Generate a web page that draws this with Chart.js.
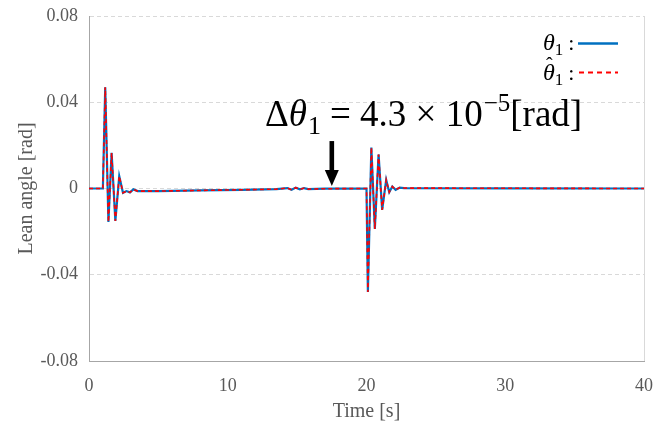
<!DOCTYPE html>
<html>
<head>
<meta charset="utf-8">
<script src="https://cdn.jsdelivr.net/npm/chart.js@4"></script>
<style>
html,body{margin:0;padding:0;background:#fff;}
#wrap{width:667px;height:428px;}
</style>
</head>
<body>
<div id="wrap"><canvas id="chart" width="667" height="428"></canvas></div>
<script>
// time axis [s] and lean angles [rad]
const timeS = [0, 1.0, 1.17, 1.40, 1.63, 1.90, 2.18, 2.45, 2.7, 2.95, 3.2, 3.5, 5, 8, 11, 13.5,
  14.3, 14.6, 14.9, 15.2, 15.5, 15.8, 17, 20.0, 20.1, 20.35, 20.6, 20.87, 21.13, 21.42,
  21.64, 21.86, 22.1, 22.4, 22.7, 30, 40];
const theta1 = [0, 0, 0.047, -0.0155, 0.0165, -0.015, 0.0057, -0.002, -0.0012, -0.0018, -0.0004, -0.0012, -0.0012, -0.0009, -0.0006, -0.0003,
  0.0002, -0.0006, 0.0004, -0.0004, 0.0002, -0.0003, -0.0001, 0, -0.048, 0.019, -0.0188, 0.0158, -0.0099, 0.004,
  -0.0017, 0.0009, -0.0006, 0.0004, 0.0002, 0.0001, 0];
const theta1Hat = [0, 0, 0.0470, -0.0155, 0.0165, -0.0150, 0.0057, -0.0020, -0.0012, -0.0018, -0.0004, -0.0012, -0.0012, -0.0009, -0.0006, -0.0003,
  0.0002, -0.0006, 0.0004, -0.0004, 0.0002, -0.0003, -0.0001, 0, -0.0480, 0.0190, -0.0188, 0.0158, -0.0099, 0.0040,
  -0.0017, 0.0009, -0.0006, 0.0004, 0.0002, 0.0001, 0];
const yTicks = [-0.08, -0.04, 0, 0.04, 0.08];
const xTicks = [0, 10, 20, 30, 40];
// arrow marking the estimate error
const arrowT = 17.5, arrowTop = 0.022, arrowHead = 0.0086, arrowTip = 0.0012;

const SERIF = '"Liberation Serif", "DejaVu Serif", serif';
const GRAY = '#595959';
const BLUE = '#0070C0', RED = '#FF0000';

function pts(ys){ return timeS.map((t,i)=>({x:t, y:ys[i]})); }
function fmtY(v){
  if(Math.abs(v) < 1e-9) return '0';
  return v.toFixed(2);
}

// draws a run of text pieces: [text, size, italic, dy, gapAfter]
function drawRuns(ctx, x, y, runs){
  runs.forEach(r=>{
    ctx.font = (r[2]?'italic ':'') + r[1] + 'px ' + SERIF;
    ctx.fillText(r[0], x, y + (r[3]||0));
    x += ctx.measureText(r[0]).width + (r[4]||0);
  });
  return x;
}

const notes = {
  id:'notes',
  afterDatasetsDraw(chart){
    const ctx = chart.ctx, xs = chart.scales.x, ys = chart.scales.y;
    ctx.save();
    ctx.fillStyle = '#000';
    ctx.textBaseline = 'alphabetic';
    ctx.textAlign = 'left';
    // big formula
    drawRuns(ctx, 265, 126, [
      ['\u0394',37,false,0],['\u03b8',37,true,0,1],['1',26,false,8,9],
      ['= 4.3 \u00d7 10',37,false,0,1],['\u22125',25,false,-15,0],['[rad]',37,false,0]
    ]);
    // arrow
    const ax = xs.getPixelForValue(arrowT);
    ctx.fillRect(ax-2.3, ys.getPixelForValue(arrowTop), 4.6, ys.getPixelForValue(arrowHead)-ys.getPixelForValue(arrowTop)+1);
    ctx.beginPath();
    ctx.moveTo(ax-7, ys.getPixelForValue(arrowHead));
    ctx.lineTo(ax+7, ys.getPixelForValue(arrowHead));
    ctx.lineTo(ax, ys.getPixelForValue(arrowTip));
    ctx.closePath(); ctx.fill();
    // legend
    drawRuns(ctx, 543, 50, [['\u03b8',24,true,0],['1',17,false,5,5],[':',22,false,0]]);
    drawRuns(ctx, 543, 80, [['\u03b8',24,true,0],['1',17,false,5,5],[':',22,false,0]]);
    ctx.font = '20px ' + SERIF;
    ctx.fillText('\u02c6', 546, 72);
    ctx.lineWidth = 2.5; ctx.strokeStyle = BLUE;
    ctx.beginPath(); ctx.moveTo(578,43.5); ctx.lineTo(618,43.5); ctx.stroke();
    ctx.lineWidth = 2; ctx.strokeStyle = RED; ctx.setLineDash([5,4]);
    ctx.beginPath(); ctx.moveTo(579,72.5); ctx.lineTo(618,72.5); ctx.stroke();
    ctx.restore();
  }
};

new Chart(document.getElementById('chart'), {
  type:'line',
  data:{datasets:[
    {label:'theta1hat', data:pts(theta1Hat), borderColor:RED, borderWidth:1.6, borderDash:[4,3], pointRadius:0, order:0},
    {label:'theta1', data:pts(theta1), borderColor:BLUE, borderWidth:2.2, pointRadius:0, order:1}
  ]},
  options:{
    responsive:false, animation:false, devicePixelRatio:1,
    layout:{padding:{top:16, right:21, left:0, bottom:0}},
    plugins:{legend:{display:false}, tooltip:{enabled:false}},
    scales:{
      x:{type:'linear', min:0, max:40,
        afterBuildTicks:s=>{ s.ticks = xTicks.map(v=>({value:v})); },
        afterFit:s=>{ s.height = 67; },
        ticks:{color:GRAY, font:{family:SERIF, size:18}, padding:14, maxRotation:0},
        grid:{drawTicks:false, lineWidth:1, color:c=> c.tick && c.tick.value===40 ? '#d9d9d9' : 'rgba(0,0,0,0)'},
        border:{color:'#a6a6a6', width:1},
        title:{display:true, text:'Time [s]', color:GRAY, font:{family:SERIF, size:20}, padding:{top:4, bottom:4}}
      },
      y:{min:-0.08, max:0.08,
        afterBuildTicks:s=>{ s.ticks = yTicks.map(v=>({value:v})); },
        afterFit:s=>{ s.width = 89; s.paddingTop = 0; s.paddingBottom = 0; },
        ticks:{color:GRAY, font:{family:SERIF, size:18}, padding:11, callback:v=>fmtY(v)},
        grid:{drawTicks:false, lineWidth:1, color:c=> c.tick && c.tick.value===-0.08 ? 'rgba(0,0,0,0)' : '#d9d9d9'},
        border:{color:'#a6a6a6', width:1, dash:[4,3]},
        title:{display:true, text:'Lean angle [rad]', color:GRAY, font:{family:SERIF, size:20}, padding:{top:15, bottom:0}}
      }
    }
  },
  plugins:[notes]
});
</script>
</body>
</html>
